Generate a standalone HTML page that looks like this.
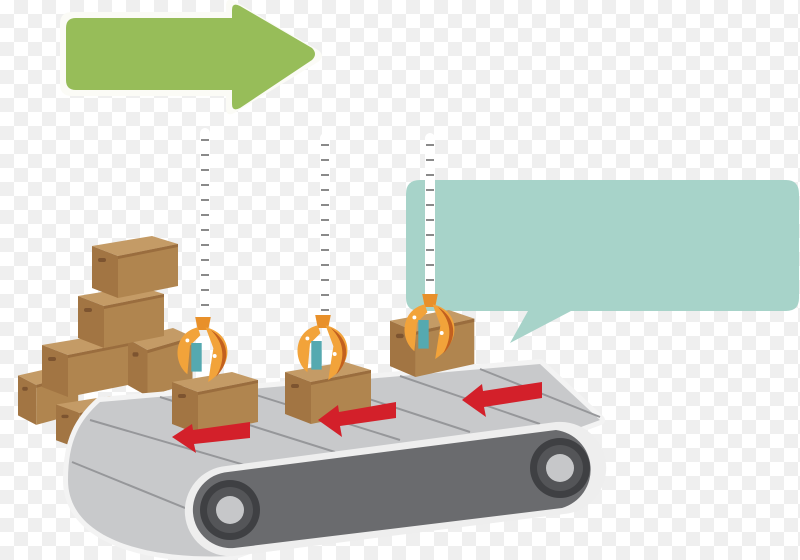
<!DOCTYPE html>
<html><head><meta charset="utf-8"><style>
html,body{margin:0;padding:0;width:800px;height:560px;overflow:hidden;
background-color:#fff;
background-image:linear-gradient(45deg,#efefef 25%,transparent 25%,transparent 75%,#efefef 75%),linear-gradient(45deg,#efefef 25%,transparent 25%,transparent 75%,#efefef 75%);
background-size:28px 28px;background-position:0 0,14px 14px;}
svg{position:absolute;left:0;top:0}
</style></head><body>
<svg width="800" height="560" viewBox="0 0 800 560">
<defs>
<g id="box">
  <polygon points="0,10 60,0 86,8 26,20" fill="#c49b66"/>
  <polygon points="0,10 26,20 26,62 0,52" fill="#a27543"/>
  <polygon points="26,20 86,8 86,50 26,62" fill="#b0854f"/>
  <polygon points="26,20 86,8 86,11 26,23" fill="#9a6d3e"/>
  <rect x="6" y="22" width="8" height="4" rx="2" fill="#7d5430"/>
</g>
<g id="claw">
  <path d="M-6,-20 L6,-20 L4,-10 L-4,-10 Z" fill="#e8902a"/>
  <path d="M-4,-12 C-22,-8 -24,14 -12,24 L-10,2 L-2,-6 Z" fill="#f2a33a"/>
  <rect x="-9" y="0" width="8" height="22" fill="#55a9b0"/>
  <path d="M2,-12 C22,-8 26,16 4,30 L8,4 Z" fill="#f2a33a"/>
  <path d="M6,-10 C20,-2 22,14 10,26 C18,12 16,0 6,-10Z" fill="#c2601f"/>
  <circle cx="-12" cy="-2" r="1.5" fill="#fff"/><circle cx="9" cy="10" r="1.5" fill="#fff"/>
</g>
</defs>

<path d="M60,24 Q60,12 72,12 L226,12 L226,6 Q226,-4 236,2 L318,50 Q326,56 318,62 L236,112 Q226,118 226,108 L226,96 L72,96 Q60,96 60,84 Z" fill="#fbfbf6"/>
<path d="M66,28 Q66,18 76,18 L232,18 L232,10 Q232,2 240,6 L312,48 Q318,54 312,60 L240,108 Q232,112 232,104 L232,90 L76,90 Q66,90 66,80 Z" fill="#97bd59"/>

<path d="M420,180 L786,180 Q799,180 799,194 L799,298 Q799,311 786,311 L571,311 L510,343 L528,311 L420,311 Q406,311 406,298 L406,194 Q406,180 420,180 Z" fill="#a7d3c9"/>

<g>
  <rect x="200" y="128" width="10" height="200" rx="5" fill="#fff"/>
  <rect x="320" y="133" width="10" height="190" rx="5" fill="#fff"/>
  <rect x="425" y="133" width="10" height="172" rx="5" fill="#fff"/>
  <path d="M201,140 h8 M201,155 h8 M201,170 h8 M201,185 h8 M201,200 h8 M201,215 h8 M201,230 h8 M201,245 h8 M201,260 h8 M201,275 h8 M201,290 h8 M201,305 h8
           M321,145 h8 M321,160 h8 M321,175 h8 M321,190 h8 M321,205 h8 M321,220 h8 M321,235 h8 M321,250 h8 M321,265 h8 M321,280 h8 M321,295 h8 M321,310 h8
           M426,145 h8 M426,160 h8 M426,175 h8 M426,190 h8 M426,205 h8 M426,220 h8 M426,235 h8 M426,250 h8 M426,265 h8 M426,280 h8 M426,295 h8" stroke="#8a8a8a" stroke-width="2"/>
</g>

<use href="#box" transform="translate(18,366) scale(0.7,0.95)"/>
<use href="#box" transform="translate(56,396) scale(0.9,0.85)"/>
<use href="#box" transform="translate(128,328) scale(0.75,1.1)"/>
<use href="#box" transform="translate(42,335)"/>
<use href="#box" transform="translate(78,286)"/>
<use href="#box" transform="translate(92,236)"/>

<path d="M100,402 L540,364 L600,420 L230,556 C150,560 68,540 68,480 C68,440 80,420 100,402 Z" fill="#c8c9cb" stroke="#f3f3f3" stroke-width="10" stroke-linejoin="round"/>
<path d="M100,402 L540,364 L600,420 L230,556 C150,560 68,540 68,480 C68,440 80,420 100,402 Z" fill="#c8c9cb"/>
<g stroke="#96979a" stroke-width="2">
  <line x1="160" y1="397" x2="335" y2="452"/>
  <line x1="240" y1="390" x2="400" y2="440"/>
  <line x1="320" y1="383" x2="470" y2="432"/>
  <line x1="400" y1="376" x2="540" y2="424"/>
  <line x1="480" y1="369" x2="600" y2="417"/>
  <line x1="90" y1="420" x2="255" y2="468"/>
  <line x1="72" y1="462" x2="190" y2="510"/>
</g>
<path d="M226,466 L556,422 A46,46 0 0 1 564,514 L234,556 A45,45 0 0 1 226,466 Z" fill="#eeeeee"/>
<path d="M228,472 L556,430 A40,40 0 0 1 562,508 L234,548 A38,38 0 0 1 228,472 Z" fill="#6a6b6e"/>
<circle cx="230" cy="510" r="30" fill="#3f4043"/>
<circle cx="230" cy="510" r="23" fill="#545558"/>
<circle cx="230" cy="510" r="14" fill="#c6c7c9"/>
<circle cx="560" cy="468" r="30" fill="#3f4043"/>
<circle cx="560" cy="468" r="23" fill="#545558"/>
<circle cx="560" cy="468" r="14" fill="#c6c7c9"/>

<use href="#box" transform="translate(172,372)"/>
<use href="#box" transform="translate(285,362)"/>
<use href="#box" transform="translate(390,310) scale(0.98,1.08)"/>

<use href="#claw" transform="translate(203,343) scale(1.3)"/>
<use href="#claw" transform="translate(323,341) scale(1.3)"/>
<use href="#claw" transform="translate(430,320) scale(1.3)"/>

<g fill="#d3202a">
  <polygon points="172,437 192,424 193,430 250,422 250,438 194,444 196,453"/>
  <polygon points="318,420 338,405 339,412 396,402 396,418 340,426 342,437"/>
  <polygon points="462,400 482,384 483,391 542,382 542,398 484,407 486,417"/>
</g>
</svg>
</body></html>
